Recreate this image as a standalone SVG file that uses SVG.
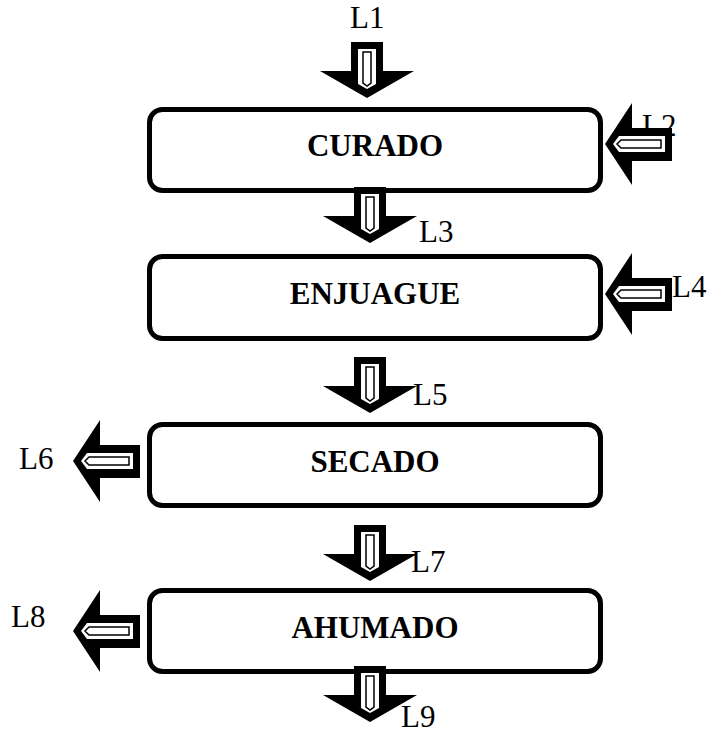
<svg xmlns="http://www.w3.org/2000/svg" width="709" height="740" viewBox="0 0 709 740">
<style>
.box{fill:#fff;stroke:#000;stroke-width:5}
.name{font-family:"Liberation Serif","Times New Roman",serif;font-weight:bold;font-size:31px;text-anchor:middle;fill:#000}
.lbl{font-family:"Liberation Serif","Times New Roman",serif;font-size:31px;fill:#000}
</style>
<defs>
<g id="down">
<path d="M-16,0 H16 V29 H47 L0,56 L-47,29 H-16 Z" fill="#000"/>
<path d="M-9,7 H9 V42 L0,47 L-9,42 Z" fill="#fff"/>
<path d="M-4,10 H4 V41 L0,44 L-4,41 Z" fill="#fff" stroke="#000" stroke-width="1.5"/>
</g>
<g id="left">
<path d="M0,0 L27,-41 V-16 H67 V17 H27 V41 Z" fill="#000"/>
<path d="M8,0 L14,-8 H60 V8 H14 Z" fill="#fff"/>
<path d="M12,0 L16,-4 H56 V4 H16 Z" fill="#fff" stroke="#000" stroke-width="1.5"/>
</g>
</defs>
<g id="curado">
<rect class="box" x="149.5" y="109.5" width="451" height="81" rx="13"/>
<text class="name" x="375" y="156">CURADO</text>
</g>
<g id="enjuague">
<rect class="box" x="149.5" y="256.5" width="451" height="82" rx="13"/>
<text class="name" x="375" y="304">ENJUAGUE</text>
</g>
<g id="secado">
<rect class="box" x="149.5" y="424.5" width="451" height="81" rx="13"/>
<text class="name" x="375" y="472">SECADO</text>
</g>
<g id="ahumado">
<rect class="box" x="149.5" y="590.5" width="451" height="81" rx="13"/>
<text class="name" x="375" y="638">AHUMADO</text>
</g>
<g id="connectors">
<text class="lbl" x="350" y="28">L1</text>
<text class="lbl" x="642" y="136">L2</text>
<text class="lbl" x="419" y="242">L3</text>
<text class="lbl" x="672" y="297">L4</text>
<text class="lbl" x="413" y="405">L5</text>
<text class="lbl" x="19" y="469">L6</text>
<text class="lbl" x="411" y="572">L7</text>
<text class="lbl" x="11" y="627">L8</text>
<text class="lbl" x="401" y="727">L9</text>
<use href="#down" transform="translate(367,42)"/>
<use href="#left" transform="translate(605,144)"/>
<use href="#down" transform="translate(370,187)"/>
<use href="#left" transform="translate(605,294)"/>
<use href="#down" transform="translate(370,357)"/>
<use href="#left" transform="translate(73,461)"/>
<use href="#down" transform="translate(370,525)"/>
<use href="#left" transform="translate(73,631)"/>
<use href="#down" transform="translate(370,666)"/>
</g>
</svg>
